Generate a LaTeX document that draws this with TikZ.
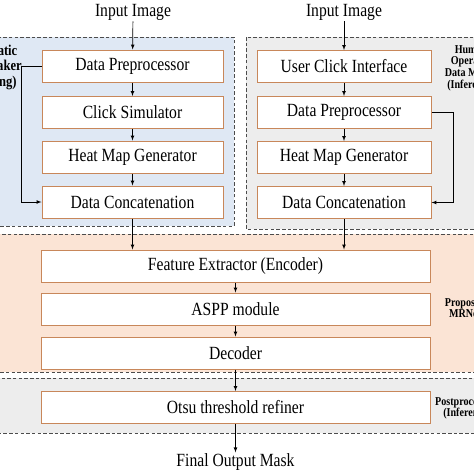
\documentclass[tikz,border=0pt]{standalone}
\usepackage{fontspec}
\setmainfont{Liberation Serif}
\usepackage{graphicx}
\usepackage{tikz}
\usetikzlibrary{shapes,arrows, positioning}
\definecolor{boxedge}{HTML}{C8875A}
\definecolor{bluefill}{HTML}{DFE8F4}
\definecolor{grayfill}{HTML}{EDEDED}
\definecolor{peachfill}{HTML}{FBE4D5}
\newcommand{\tall}[1]{\scalebox{0.84}[1]{#1}}
\tikzstyle{box} = [rectangle, draw=boxedge, fill=white, line width=1pt, minimum height=32pt, inner sep=0pt, font=\fontsize{18.6}{20}\selectfont]
\tikzstyle{lbox} = [box, minimum width=181pt]
\tikzstyle{rbox} = [box, minimum width=174pt]
\tikzstyle{mbox} = [box, minimum width=389pt]
\tikzstyle{txt} = [font=\fontsize{18.6}{20}\selectfont, inner sep=1pt]
\tikzstyle{side} = [align=center, font=\fontsize{12}{11.6}\selectfont\bfseries]
\tikzstyle{panel} = [draw=black!70, line width=0.6pt, dash pattern=on 3.5pt off 2.2pt]
\tikzstyle{line} = [draw, line width=0.7pt, -latex]

\begin{document}
\begin{tikzpicture}[x=1pt, y=-1pt]
			\useasboundingbox (0,0) rectangle (474,474);
			\clip (0,0) rectangle (474,474);
			
			% panels
			\path [panel, fill=bluefill] (-10,37) rectangle (234,226);
			\path [panel, fill=grayfill] (246,37) rectangle (484,229);
			\path [panel, fill=peachfill] (-10,234) rectangle (484,372);
			\path [panel, fill=grayfill] (-10,378) rectangle (484,433);
			
			% side labels
			\node [side, font=\fontsize{15}{15.5}\selectfont\bfseries] (lblL) at (-11,67) {\tall{Automatic}\\\tall{Data Maker}\\\tall{(Training)}};
			\node [side] (lblR) at (471,68) {\tall{Human}\\\tall{Operator}\\\tall{Data Maker}\\\tall{(Inference)}};
			\node [side] (lblM) at (465,308) {\tall{Proposed}\\\tall{MRNet}};
			\node [side] (lblP) at (467,408) {\tall{Postprocessing}\\\tall{(Inference)}};
			
			% training branch
			\node [txt] (inL) at (133,12) {\tall{Input Image}};
			\node [lbox] (dpL) at (132.5,66) {\tall{Data Preprocessor}};
			\node [lbox] (csL) at (132.5,112.5) {\tall{Click Simulator}};
			\node [lbox] (hmL) at (132.5,157) {\tall{Heat Map Generator}};
			\node [lbox] (dcL) at (132.5,202) {\tall{Data Concatenation}};
			
			% inference branch
			\node [txt] (inR) at (344,12) {\tall{Input Image}};
			\node [rbox] (uci) at (344,66.5) {\tall{User Click Interface}};
			\node [rbox] (dpR) at (344,112.5) {\tall{Data Preprocessor}};
			\node [rbox] (hmR) at (344,157.5) {\tall{Heat Map Generator}};
			\node [rbox] (dcR) at (344,202.5) {\tall{Data Concatenation}};
			
			% network
			\node [mbox] (fe) at (235.5,266) {\tall{Feature Extractor (Encoder)}};
			\node [mbox] (aspp) at (235.5,309) {\tall{ASPP module}};
			\node [mbox] (dec) at (235.5,353) {\tall{Decoder}};
			\node [mbox] (otsu) at (235.5,407.5) {\tall{Otsu threshold refiner}};
			\node [txt] (out) at (235.5,462) {\tall{Final Output Mask}};
			
			\path [line] (inL) -- (dpL);
			\path [line] (dpL) -- (csL);
			\path [line] (csL) -- (hmL);
			\path [line] (hmL) -- (dcL);
			\path [line] (dpL.west) -- ++(-20,0) |- (dcL.west);
			
			\path [line] (inR) -- (uci);
			\path [line] (uci) -- (dpR);
			\path [line] (dpR) -- (hmR);
			\path [line] (hmR) -- (dcR);
			\path [line] (dpR.east) -- ++(22,0) |- (dcR.east);
			
			\path [line] (dcL.south) -- (dcL.south |- fe.north);
			\path [line] (dcR.south) -- (dcR.south |- fe.north);
			\path [line] (fe) -- (aspp);
			\path [line] (aspp) -- (dec);
			\path [line] (dec) -- (otsu);
			\path [line] (otsu) -- (out);
		\end{tikzpicture}
\end{document}
